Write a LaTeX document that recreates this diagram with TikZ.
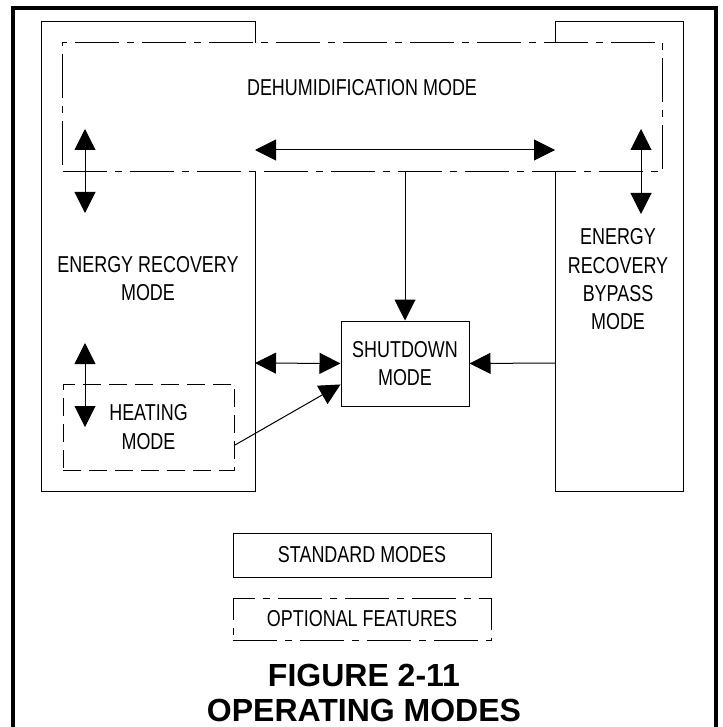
\documentclass[tikz,border=0pt]{standalone}
\usepackage{fontspec}
\setmainfont[FakeStretch=0.78]{Liberation Sans}
\newfontfamily\titlefont{Liberation Sans}
\usetikzlibrary{arrows.meta}

\begin{document}
\begin{tikzpicture}[x=1pt, y=-1pt,
  font=\fontsize{23}{28.3}\selectfont, >={Triangle[length=21pt,width=21pt]},
  line width=1pt,
  lbl/.style={align=center, inner sep=0pt},
  stdbox/.style={draw, align=center, inner sep=0pt},
  dashdot/.style={dash pattern=on 44pt off 8pt on 7pt off 8pt},
  optbox/.style={draw, dash pattern=on 18pt off 8pt, align=center, inner sep=0pt},
]
\useasboundingbox (0,0) rectangle (722,727);
% page frame, open at the bottom
\draw[line width=4pt] (13,727) -- (13,8) -- (716,8) -- (716,727);
% dehumidification mode
\node[draw, dashdot, minimum width=600pt, minimum height=129pt] (dehum) at (362.5,107.5) {};
\node[lbl] (dehumtxt) at (362,88) {DEHUMIDIFICATION MODE};
% energy recovery and bypass modes
\draw (255,43) -- (255,22) -- (41,22) -- (41,491) -- (255,491) -- (255,172);
\draw (555,43) -- (555,22) -- (683,22) -- (683,491) -- (555,491) -- (555,172);
\node[lbl] (ertxt) at (148,278.5) {ENERGY RECOVERY\\MODE};
\node[lbl] (bptxt) at (618,279.5) {ENERGY\\RECOVERY\\BYPASS\\MODE};
\node[stdbox, minimum width=128pt, minimum height=85pt] (shut) at (405,363.5) {SHUTDOWN\\MODE};
\node[optbox, minimum width=171pt, minimum height=86pt] (heat) at (148.5,427) {HEATING\\MODE};
\coordinate (erT) at (255,150); \coordinate (bpT) at (555,150);
\coordinate (erE) at (255,363); \coordinate (bpW) at (555,363);
\coordinate (l1) at (85,129); \coordinate (l2) at (85,213);
\coordinate (r1) at (641,129); \coordinate (r2) at (641,214);
\coordinate (h1) at (85,343); \coordinate (h2) at (85,427);
\draw[<->] (erT) -- (bpT);
\draw[<->] (l1) -- (l2); \draw[<->] (r1) -- (r2); \draw[<->] (h1) -- (h2);
\draw[->] (dehum.south -| shut.north) -- (shut.north);
\draw[<->] (erE) -- (shut.west);
\draw[->] (bpW) -- (shut.east);
\draw[->] (heat.-12.5) -- (shut.198.6);
% legend
\node[stdbox, minimum width=258pt, minimum height=44pt] (std) at (362,555) {STANDARD MODES};
\node[stdbox, dashdot, minimum width=258pt, minimum height=42pt] (opt) at (362,619) {OPTIONAL FEATURES};
\node[lbl, font=\titlefont\fontsize{32}{35}\selectfont\bfseries] (title) at (364,692.5) {FIGURE 2-11\\OPERATING MODES};
\end{tikzpicture}
\end{document}
